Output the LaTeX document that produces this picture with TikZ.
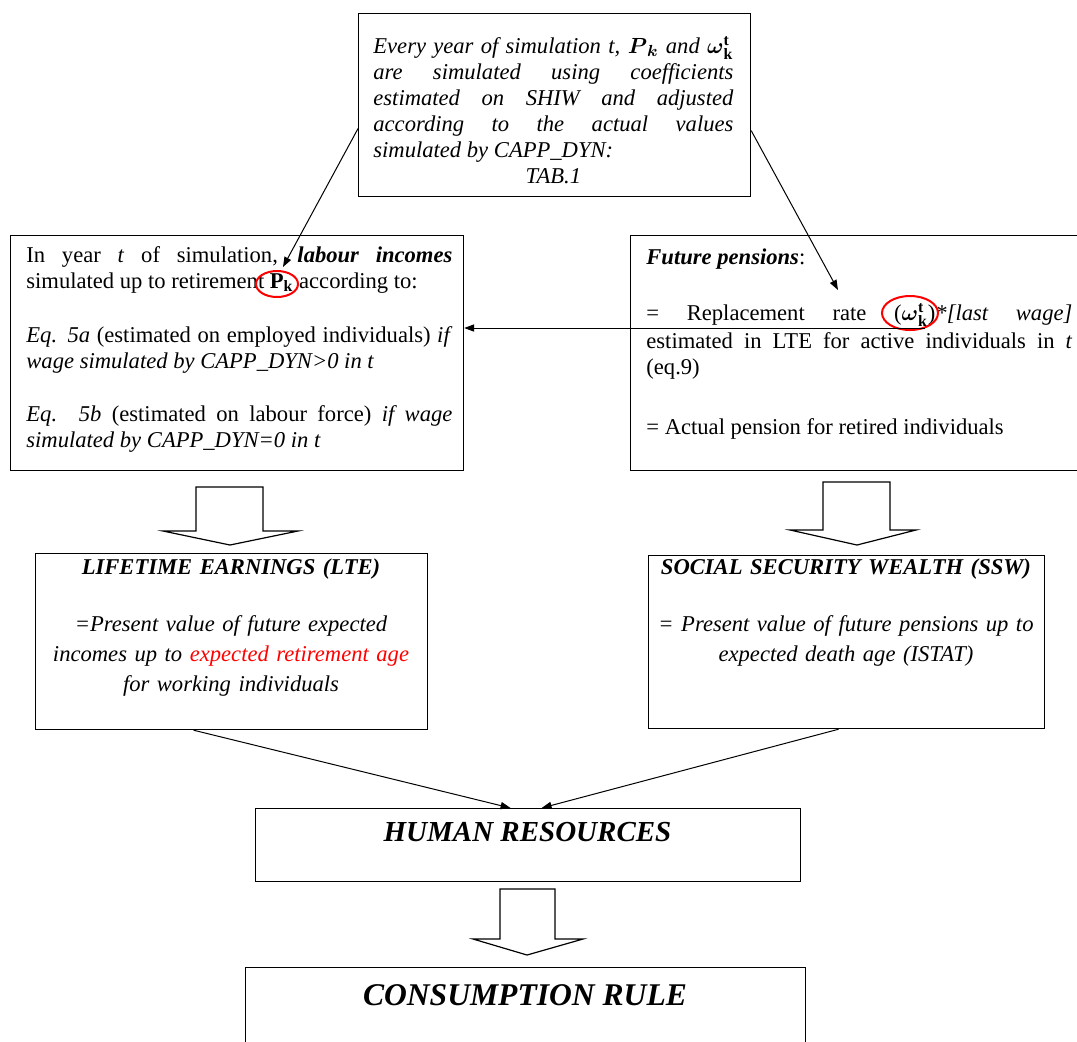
\documentclass[tikz,border=0pt]{standalone}
\usepackage{fontspec}
\setmainfont{Liberation Serif}
\usepackage{amsmath}
\usetikzlibrary{arrows.meta,shapes.geometric}
\newcommand\bodyfnt{\fontsize{11.3}{13}\selectfont}
\newcommand\ctrfnt{\fontsize{11.3}{15}\selectfont}
\newcommand\pgap[1][13pt]{\par\vspace{#1}}
\begin{document}
\begin{tikzpicture}[x=0.5pt,y=-0.5pt,
  box/.style={draw, line width=0.6pt, rectangle, inner sep=0pt, anchor=north west},
  txt/.style={inner sep=0pt, anchor=base west, font=\bodyfnt, text width=213pt, align=justify},
  ctxt/.style={inner sep=0pt, anchor=base, font=\ctrfnt\itshape, text width=200pt, align=center},
  conn/.style={line width=0.5pt, -{Triangle[length=5pt,width=3.6pt]}},
  blockarrow/.style={draw, line width=0.6pt, fill=white, line join=miter},
  redring/.style={draw=red, line width=1pt, ellipse, inner sep=0pt},
]
\clip (0,0) rectangle (1077,1041);
% boxes
\node[box, minimum width=196pt, minimum height=91.5pt] (top) at (358,13) {};
\node[box, minimum width=226.5pt, minimum height=117.5pt] (lbox) at (10,235) {};
\node[box, minimum width=226.5pt, minimum height=117.5pt] (rbox) at (630,235) {};
\node[box, minimum width=196pt, minimum height=88pt] (lte) at (35,553) {};
\node[box, minimum width=198pt, minimum height=86.5pt] (ssw) at (648,555) {};
\node[box, minimum width=272.5pt, minimum height=36.5pt] (hr) at (255,808) {};
\node[box, minimum width=280pt, minimum height=60pt] (cr) at (245,967) {};
% texts
\node[txt, text width=180pt] (toptxt) at (373,53) {\itshape Every year of simulation t, $\boldsymbol{P}_{\boldsymbol{k}}$ and $\boldsymbol{\omega}^{\mathbf{t}}_{\mathbf{k}}$\linebreak are simulated using coefficients\linebreak estimated on SHIW and adjusted\linebreak according to the actual values\linebreak simulated by CAPP\_DYN:\par\centerline{TAB.1}};
\node[txt] (ltxt) at (26,262) {In year \textit{t} of simulation, \textbf{\textit{labour incomes}}\linebreak simulated up to retirement $\mathbf{P}_{\mathbf{k}}$ according to:\pgap[14pt]
\textit{Eq. 5a} (estimated on employed individuals) \textit{if}\linebreak \textit{wage simulated by CAPP\_DYN>0 in t}\pgap[13.5pt]
\textit{Eq. 5b} (estimated on labour force) \textit{if wage}\linebreak \textit{simulated by CAPP\_DYN=0 in t}};
\node[txt] (rtxt) at (646,264) {\textbf{\textit{Future pensions}}:\pgap[15pt]
= Replacement rate ($\boldsymbol{\omega}^{\mathbf{t}}_{\mathbf{k}}$)\textit{*[last wage]}\rule[-5.3pt]{0pt}{1pt}\linebreak estimated in LTE for active individuals in \textit{t}\linebreak (eq.9)\pgap[17pt]
= Actual pension for retired individuals};
\node[ctxt] (ltetxt) at (231,574) {\textbf{LIFETIME EARNINGS (LTE)}\\[13.5pt] =Present value of future expected\\ incomes up to \textcolor{red}{expected retirement age}\\ for working individuals};
\node[ctxt] (sswtxt) at (846,574) {\textbf{SOCIAL SECURITY WEALTH (SSW)}\\[13.5pt] = Present value of future pensions up to\\ expected death age (ISTAT)};
\node[inner sep=0pt, anchor=base, font=\fontsize{14.5}{16}\selectfont\bfseries\itshape] (hrtxt) at (527.5,841) {HUMAN RESOURCES};
\node[inner sep=0pt, anchor=base, font=\fontsize{15.8}{18}\selectfont\bfseries\itshape] (crtxt) at (525,1005) {CONSUMPTION RULE};
% red rings
\node[redring, minimum width=21pt, minimum height=13pt] (pk) at (277,284) {};
\node[redring, minimum width=28pt, minimum height=17pt] (om) at (910,313) {};
% block arrows
\draw[blockarrow] (196,487) -- (263,487) -- (263,531) -- (298,531) -- (230,545) -- (163,531) -- (196,531) -- cycle;
\draw[blockarrow] (823,482) -- (890,482) -- (890,530) -- (916,530) -- (857,545) -- (790,530) -- (823,530) -- cycle;
\draw[blockarrow] (500,889) -- (555,889) -- (555,939) -- (583,939) -- (527,955) -- (473,939) -- (500,939) -- cycle;
% connectors
\coordinate (rtip) at (838,290);
\coordinate (hstart) at (925,328);
\draw[conn] ([yshift=-11.75pt]top.west) -- ([xshift=3pt,yshift=1.5pt]pk.north);
\draw[conn] ([yshift=-12.75pt]top.east) -- (rtip);
\draw[conn] (hstart) -- (lbox.east |- hstart);
\draw[conn] ([xshift=-19pt]lte.south) -- ([xshift=-8.75pt]hr.north);
\draw[conn] ([xshift=-4pt]ssw.south) -- ([xshift=6.75pt]hr.north);
\end{tikzpicture}
\end{document}
